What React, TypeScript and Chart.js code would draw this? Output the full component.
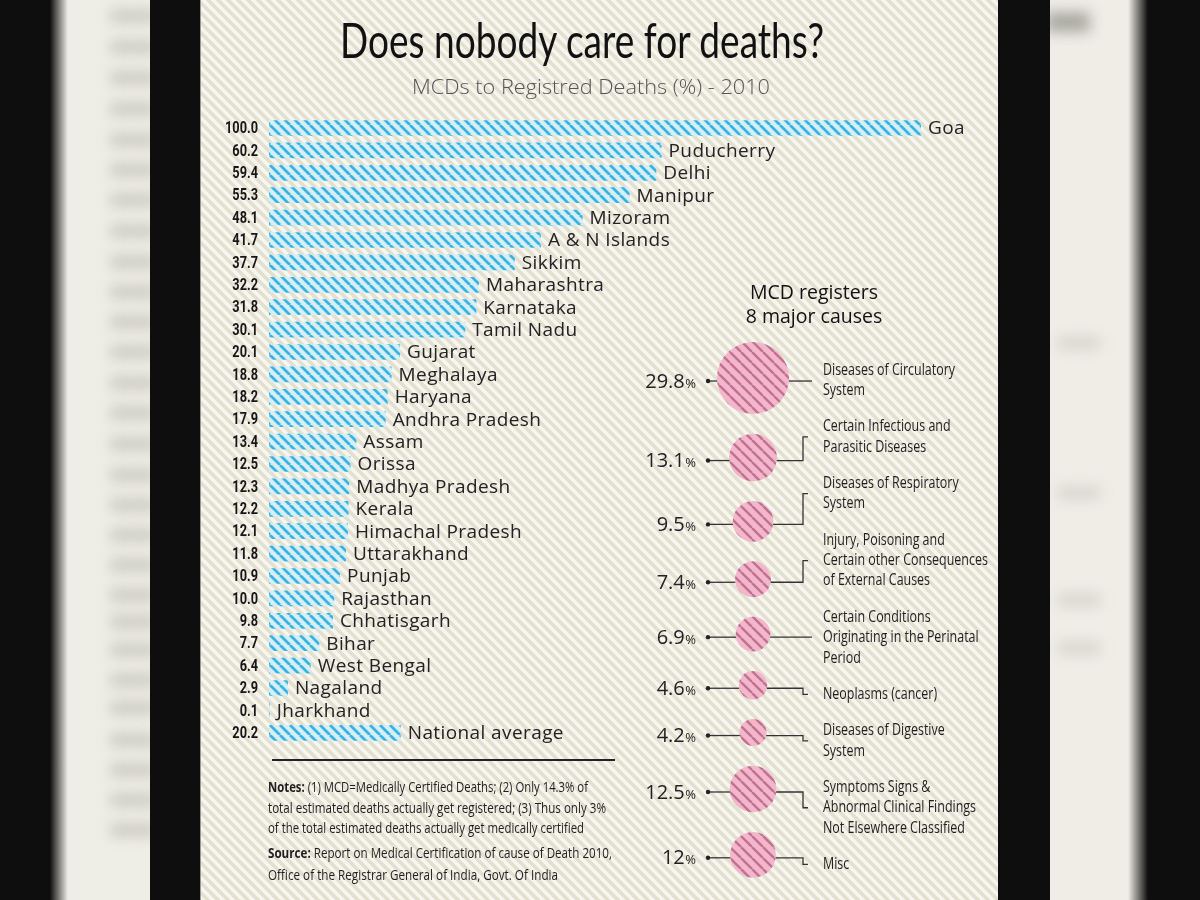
import React, { useEffect, useLayoutEffect, useRef } from "react";
import { Chart, registerables } from "chart.js";

Chart.register(...registerables);

// ---------- DATA ----------
const states = [
  "Goa", "Puducherry", "Delhi", "Manipur", "Mizoram", "A & N Islands", "Sikkim",
  "Maharashtra", "Karnataka", "Tamil Nadu", "Gujarat", "Meghalaya", "Haryana",
  "Andhra Pradesh", "Assam", "Orissa", "Madhya Pradesh", "Kerala", "Himachal Pradesh",
  "Uttarakhand", "Punjab", "Rajasthan", "Chhatisgarh", "Bihar", "West Bengal",
  "Nagaland", "Jharkhand", "National average",
];
const mcdShare = [
  100.0, 60.2, 59.4, 55.3, 48.1, 41.7, 37.7, 32.2, 31.8, 30.1, 20.1, 18.8, 18.2, 17.9,
  13.4, 12.5, 12.3, 12.2, 12.1, 11.8, 10.9, 10.0, 9.8, 7.7, 6.4, 2.9, 0.1, 20.2,
];
const valueMin = 0;
const valueMax = 100;

const causeLabels: string[][] = [
  ["Diseases of Circulatory", "System"],
  ["Certain Infectious and", "Parasitic Diseases"],
  ["Diseases of Respiratory", "System"],
  ["Injury, Poisoning and", "Certain other Consequences", "of External Causes"],
  ["Certain Conditions", "Originating in the Perinatal", "Period"],
  ["Neoplasms (cancer)"],
  ["Diseases of Digestive", "System"],
  ["Symptoms Signs &", "Abnormal Clinical Findings", "Not Elsewhere Classified"],
  ["Misc"],
];
const causeShares = [29.8, 13.1, 9.5, 7.4, 6.9, 4.6, 4.2, 12.5, 12];

const titleText = "Does nobody care for deaths?";
const subtitleText = "MCDs to Registred Deaths (%) - 2010";
const causesHeading = ["MCD registers", "8 major causes"];
const notesLines = [
  ["Notes:", " (1) MCD=Medically Certified Deaths; (2) Only 14.3% of"],
  ["", "total estimated deaths actually get registered; (3) Thus only 3%"],
  ["", "of the total estimated deaths actually get medically certified"],
];
const sourceLines = [
  ["Source:", " Report on Medical Certification of cause of Death 2010,"],
  ["", "Office of the Registrar General of India, Govt. Of India"],
];

// ---------- STYLE ----------
const BUBBLE_K = 6.6; // px radius per sqrt(%)
const BUBBLE_GAP = 19.6;
const BUBBLE_TOP = 12;
const H2 = 560;

function stripePattern(ctx: CanvasRenderingContext2D, bg: string, fg: string, p: number, lw: number) {
  const c = document.createElement("canvas");
  c.width = p;
  c.height = p;
  const g = c.getContext("2d")!;
  g.fillStyle = bg;
  g.fillRect(0, 0, p, p);
  g.strokeStyle = fg;
  g.lineWidth = lw;
  g.beginPath();
  for (const k of [-p, 0, p]) {
    g.moveTo(k, 0);
    g.lineTo(k + p, p);
  }
  g.stroke();
  return ctx.createPattern(c, "repeat")!;
}

const barLabelsPlugin = {
  id: "barLabels",
  afterDatasetsDraw(chart: any) {
    const { ctx, chartArea } = chart;
    const meta = chart.getDatasetMeta(0);
    ctx.save();
    ctx.font = 'bold 17px "Roboto"';
    const sv = 33 / ctx.measureText("100.0").width;
    meta.data.forEach((bar: any, i: number) => {
      const y = bar.y;
      ctx.save();
      ctx.font = 'bold 17px "Roboto"';
      ctx.translate(chartArea.left - 11, y + 1);
      ctx.scale(sv, 1);
      ctx.textAlign = "right";
      ctx.textBaseline = "middle";
      ctx.fillStyle = "#161616";
      ctx.fillText(mcdShare[i].toFixed(1), 0, 0);
      ctx.restore();

      ctx.save();
      ctx.font = '19px "Open Sans"';
      (ctx as any).letterSpacing = "0.4px";
      ctx.textAlign = "left";
      ctx.textBaseline = "middle";
      ctx.fillStyle = "#222";
      ctx.fillText(states[i], bar.x + 7, y + 1);
      ctx.restore();
    });
    ctx.restore();
  },
};

const causesPlugin = {
  id: "causes",
  afterDatasetsDraw(chart: any) {
    const { ctx } = chart;
    const meta = chart.getDatasetMeta(0);
    ctx.save();
    ctx.font = '16px "Open Sans"';
    const sl = 132 / ctx.measureText("Diseases of Circulatory").width;
    const lineH = 20.4;
    const blockGap = 36.3;
    let ly = meta.data.length ? meta.data[0].y - 8 : 0;
    meta.data.forEach((pt: any, i: number) => {
      const cx = pt.x;
      const cy = pt.y;
      const ry = cy + 3;
      const r = pt.options.radius;
      const dx = Math.sqrt(Math.max(0, r * r - 9));
      const lines = causeLabels[i];
      const first = ly;
      const last = ly + (lines.length - 1) * lineH;
      const mid = (first + last) / 2;

      ctx.strokeStyle = "#333";
      ctx.lineWidth = 1.3;
      const dotX = cx - 45;
      ctx.beginPath();
      ctx.moveTo(dotX, ry);
      ctx.lineTo(cx - dx, ry);
      ctx.stroke();
      ctx.fillStyle = "#222";
      ctx.beginPath();
      ctx.arc(dotX, ry, 2.2, 0, Math.PI * 2);
      ctx.fill();

      ctx.beginPath();
      ctx.moveTo(cx + dx, ry);
      if (Math.abs(mid - ry) < 5) {
        ctx.lineTo(cx + 59, ry);
      } else {
        ctx.lineTo(cx + 50, ry);
        ctx.lineTo(cx + 50, mid);
        ctx.lineTo(cx + 55, mid);
      }
      ctx.stroke();

      ctx.textBaseline = "middle";
      ctx.textAlign = "right";
      ctx.fillStyle = "#222";
      ctx.font = '13px "Open Sans"';
      const pctRight = dotX - 12;
      ctx.fillText("%", pctRight, cy + 6);
      const pw = ctx.measureText("%").width;
      ctx.font = '20px "Open Sans"';
      ctx.fillText(String(causeShares[i]), pctRight - pw - 0.5, cy + 4);

      ctx.font = '16px "Open Sans"';
      ctx.textAlign = "left";
      ctx.fillStyle = "#1e1e1e";
      lines.forEach((t, j) => {
        ctx.save();
        ctx.translate(cx + 70, first + j * lineH);
        ctx.scale(sl, 1);
        ctx.fillText(t, 0, 0);
        ctx.restore();
      });
      ly = last + blockGap;
    });
    ctx.restore();
  },
};

function Fit({ w, style, children }: { w: number; style?: React.CSSProperties; children: React.ReactNode }) {
  const ref = useRef<HTMLSpanElement>(null);
  useLayoutEffect(() => {
    const el = ref.current;
    if (!el) return;
    el.style.transform = "none";
    const nat = el.getBoundingClientRect().width;
    if (nat > 0) el.style.transform = `scaleX(${w / nat})`;
  });
  return (
    <span ref={ref} style={{ display: "inline-block", whiteSpace: "pre", transformOrigin: "0 0", ...style }}>
      {children}
    </span>
  );
}

const leftBlobs = [16, 47, 78, 109, 140, 170, 200, 231, 262, 292, 322, 352, 383, 413, 444, 475, 505, 535, 565, 595, 622, 650, 680, 708, 740, 770, 800, 830];
const rightBlobs = [343, 493, 600, 648];

export default function App() {
  const barRef = useRef<HTMLCanvasElement>(null);
  const bubRef = useRef<HTMLCanvasElement>(null);

  useEffect(() => {
    const c1 = barRef.current!;
    const c2 = bubRef.current!;
    const ctx1 = c1.getContext("2d")!;
    const ctx2 = c2.getContext("2d")!;
    const blueFill = stripePattern(ctx1, "#d6eff7", "#3ab3e0", 10, 2.8);
    const pinkFill = stripePattern(ctx2, "#f4b6cb", "#bf7390", 11, 2.4);

    const chart1 = new Chart(c1, {
      type: "bar",
      data: {
        labels: states,
        datasets: [
          {
            data: mcdShare,
            backgroundColor: blueFill as any,
            borderWidth: 0,
            barPercentage: 0.7,
            categoryPercentage: 1,
          },
        ],
      },
      options: {
        indexAxis: "y",
        responsive: false,
        animation: false,
        events: [],
        layout: { autoPadding: false, padding: { left: 69, right: 79, top: 11.8, bottom: 11 } },
        scales: {
          x: { display: false, min: valueMin, max: valueMax },
          y: { display: false },
        },
        plugins: { legend: { display: false }, tooltip: { enabled: false } },
      },
      plugins: [barLabelsPlugin],
    });

    const radii = causeShares.map((v) => BUBBLE_K * Math.sqrt(v));
    const ys: number[] = [];
    radii.forEach((r, i) => {
      ys.push(i === 0 ? BUBBLE_TOP + r : ys[i - 1] + radii[i - 1] + BUBBLE_GAP + r);
    });

    const chart2 = new Chart(c2, {
      type: "bubble",
      data: {
        datasets: [
          {
            data: causeShares.map((v, i) => ({ x: 0.5, y: ys[i], r: radii[i] })),
            backgroundColor: pinkFill as any,
            borderWidth: 0,
            clip: false as any,
          },
        ],
      },
      options: {
        responsive: false,
        animation: false,
        events: [],
        layout: { autoPadding: false, padding: { left: 30, right: 144, top: 0, bottom: 0 } },
        scales: {
          x: { display: false, min: 0, max: 1 },
          y: { display: false, min: 0, max: H2, reverse: true },
        },
        plugins: { legend: { display: false }, tooltip: { enabled: false } },
      },
      plugins: [causesPlugin],
    });

    return () => {
      chart1.destroy();
      chart2.destroy();
    };
  }, []);

  const sans = '"Open Sans", "Noto Sans", sans-serif';

  return (
    <div style={{ position: "fixed", left: 0, top: 0, width: 1200, height: 900, background: "#0e0e0e", overflow: "hidden", fontFamily: sans }}>
      <div style={{ position: "absolute", left: 0, top: 0, width: 150, height: 900, background: "linear-gradient(to right, #0e0e0e 0px, #0e0e0e 50px, #efeee6 68px, #efeee6 150px)" }} />
      {leftBlobs.map((y, i) => (
        <div key={"l" + i} style={{ position: "absolute", left: 110, top: y - 7, width: 46, height: 14, background: "#c4c3bb", filter: "blur(7px)", opacity: 0.8 }} />
      ))}
      <div style={{ position: "absolute", left: 150, top: 0, width: 50, height: 900, background: "#0e0e0e" }} />
      <div style={{ position: "absolute", left: 1050, top: 0, width: 150, height: 900, background: "linear-gradient(to right, #efede6 0px, #efede6 78px, #0e0e0e 98px, #0e0e0e 150px)" }} />
      <div style={{ position: "absolute", left: 1046, top: 12, width: 44, height: 20, background: "#a9a8a0", filter: "blur(7px)" }} />
      {rightBlobs.map((y, i) => (
        <div key={"r" + i} style={{ position: "absolute", left: 1058, top: y - 7, width: 42, height: 14, background: "#d2d1c9", filter: "blur(7px)", opacity: 0.8 }} />
      ))}
      <div style={{ position: "absolute", left: 998, top: 0, width: 52, height: 900, background: "#0e0e0e" }} />

      <div
        style={{
          position: "absolute",
          left: 200,
          top: 0,
          width: 798,
          height: 900,
          background: "repeating-linear-gradient(45deg, #f6f5ef 0px, #f6f5ef 3.5px, #e3e0d0 3.5px, #e3e0d0 7.07px)",
          borderLeft: "1px solid #9a9a94",
          boxSizing: "border-box",
        }}
      />

      <div style={{ position: "absolute", left: 340, top: 15, fontSize: 49, lineHeight: "49px", color: "#111", fontWeight: 400, fontFamily: 'Lato, "Open Sans", sans-serif' }}>
        <Fit w={484}>{titleText}</Fit>
      </div>
      <div style={{ position: "absolute", left: 412, top: 76, fontSize: 21, lineHeight: "21px", color: "#555", fontWeight: 300 }}>
        <Fit w={358}>{subtitleText}</Fit>
      </div>

      <canvas ref={barRef} width={800} height={650} style={{ position: "absolute", left: 200, top: 105, width: 800, height: 650 }} />

      <div style={{ position: "absolute", left: 714, top: 280, width: 200, textAlign: "center", fontSize: 19.5, lineHeight: "24px", color: "#111" }}>
        {causesHeading.map((t, i) => (
          <div key={i}>{t}</div>
        ))}
      </div>

      <canvas ref={bubRef} width={380} height={H2} style={{ position: "absolute", left: 620, top: 330, width: 380, height: H2 }} />

      <div style={{ position: "absolute", left: 272, top: 759, width: 343, height: 1.5, background: "#222" }} />
      {notesLines.map((l, i) => (
        <div key={"n" + i} style={{ position: "absolute", left: 268, top: 777 + i * 20.7, fontSize: 14, lineHeight: "20px", color: "#1e1e1e" }}>
          <Fit w={[320, 338, 316][i]}>
            {l[0] && <b>{l[0]}</b>}
            {l[1]}
          </Fit>
        </div>
      ))}
      {sourceLines.map((l, i) => (
        <div key={"s" + i} style={{ position: "absolute", left: 268, top: 843 + i * 21.5, fontSize: 14, lineHeight: "20px", color: "#1e1e1e" }}>
          <Fit w={[344, 290][i]}>
            {l[0] && <b>{l[0]}</b>}
            {l[1]}
          </Fit>
        </div>
      ))}
    </div>
  );
}
